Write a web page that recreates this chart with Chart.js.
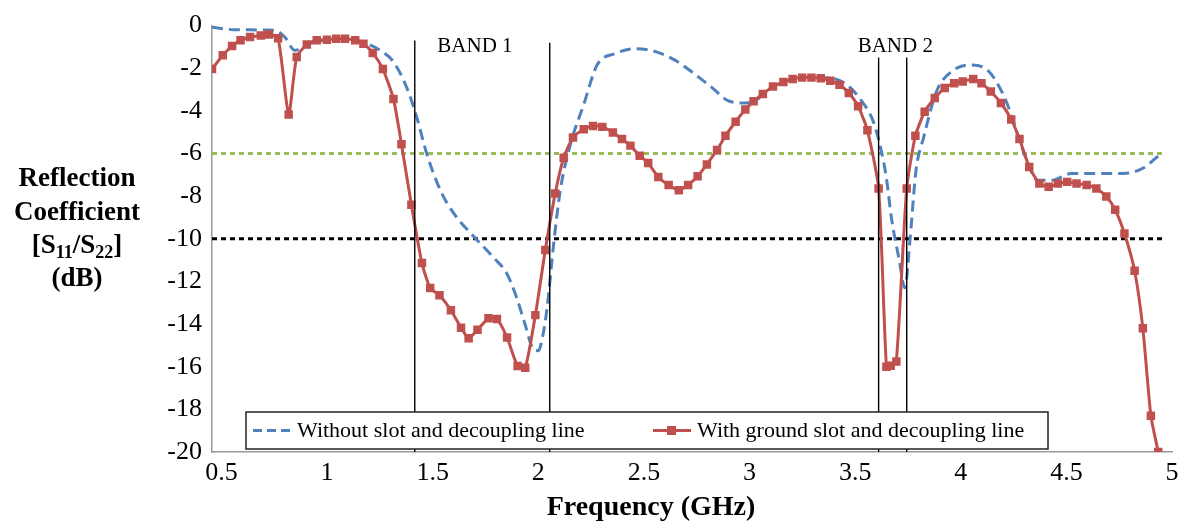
<!DOCTYPE html>
<html>
<head>
<meta charset="utf-8">
<script src="https://cdn.jsdelivr.net/npm/chart.js@4"></script>
<style>
  body { margin: 0; background: #fff; }
  #wrap { width: 1186px; height: 524px; }
</style>
</head>
<body>
<div id="wrap"><canvas id="chart" width="1186" height="524"></canvas></div>
<script>
// x ticks / y ticks
const xTicks = [0.5, 1, 1.5, 2, 2.5, 3, 3.5, 4, 4.5, 5];
const xMin = 0.455;
const xMax = 5;
const yMin = -20;
const yMax = 0;

// without slot and decoupling line (blue dashed)
const plainFreq = [0.455, 0.555, 0.635, 0.72, 0.762, 0.8, 0.848, 0.9, 0.95, 1.0, 1.05, 1.1, 1.15, 1.188, 1.251,
  1.314, 1.378, 1.425, 1.472, 1.536, 1.599, 1.693, 1.788, 1.852, 1.899, 1.938, 1.978, 2.0, 2.02, 2.041,
  2.073, 2.104, 2.152, 2.215, 2.278, 2.365, 2.462, 2.559, 2.647, 2.736, 2.825, 2.904, 2.983, 3.036, 3.063,
  3.111, 3.16, 3.204, 3.249, 3.293, 3.337, 3.39, 3.461, 3.532, 3.585, 3.62, 3.647, 3.673, 3.708, 3.735,
  3.761, 3.788, 3.824, 3.885, 3.956, 4.045, 4.115, 4.168, 4.221, 4.274, 4.319, 4.363, 4.434, 4.522, 4.628,
  4.77, 4.858, 4.947];
const plainS11 = [-0.08, -0.19, -0.2, -0.21, -0.25, -0.55, -1.16, -0.9, -0.75, -0.68, -0.62, -0.63, -0.72, -0.85, -1.16,
  -1.7, -2.93, -4.32, -6.02, -7.72, -8.8, -9.88, -10.88, -11.65, -12.81, -14.04, -15.2, -15.25, -14.6, -13.27,
  -10.19, -7.72, -5.56, -3.7, -1.85, -1.31, -1.08, -1.23, -1.62, -2.24, -2.93, -3.55, -3.63, -3.47, -3.21,
  -2.86, -2.65, -2.5, -2.44, -2.44, -2.45, -2.47, -2.78, -3.55, -4.48, -5.71, -7.1, -9.1, -10.96, -12.3,
  -9.88, -6.79, -5.25, -3.09, -2.16, -1.85, -2.0, -2.62, -3.7, -5.25, -6.48, -7.25, -7.25, -6.94, -6.94,
  -6.94, -6.71, -6.02];

// with ground slot and decoupling line (red, square markers)
const slotFreq = [0.455, 0.506, 0.55, 0.59, 0.635, 0.686, 0.725, 0.768, 0.818, 0.856, 0.904, 0.951, 0.999, 1.043,
  1.085, 1.133, 1.172, 1.216, 1.264, 1.314, 1.352, 1.399, 1.449, 1.488, 1.532, 1.586, 1.634, 1.67, 1.712,
  1.764, 1.804, 1.852, 1.902, 1.938, 1.986, 2.033, 2.08, 2.12, 2.164, 2.215, 2.259, 2.303, 2.353, 2.396,
  2.436, 2.48, 2.52, 2.568, 2.617, 2.665, 2.709, 2.754, 2.798, 2.846, 2.886, 2.934, 2.98, 3.019, 3.063,
  3.111, 3.16, 3.204, 3.249, 3.293, 3.337, 3.382, 3.426, 3.47, 3.514, 3.558, 3.611, 3.648, 3.668, 3.695,
  3.744, 3.785, 3.829, 3.877, 3.924, 3.969, 4.009, 4.059, 4.098, 4.142, 4.19, 4.239, 4.278, 4.324, 4.372,
  4.416, 4.46, 4.504, 4.548, 4.596, 4.642, 4.689, 4.731, 4.775, 4.823, 4.862, 4.9, 4.935];
const slotS11 = [-2.04, -1.39, -0.96, -0.69, -0.54, -0.46, -0.42, -0.59, -4.17, -1.47, -0.89, -0.69, -0.66, -0.62,
  -0.62, -0.69, -0.85, -1.28, -2.04, -3.44, -5.56, -8.4, -11.14, -12.31, -12.65, -13.35, -14.17, -14.66, -14.27,
  -13.73, -13.76, -14.63, -15.97, -16.05, -13.58, -10.52, -7.87, -6.2, -5.25, -4.86, -4.71, -4.75, -5.01, -5.32,
  -5.63, -6.1, -6.45, -7.1, -7.48, -7.72, -7.48, -7.07, -6.51, -5.83, -5.17, -4.51, -3.94, -3.55, -3.21,
  -2.86, -2.65, -2.5, -2.44, -2.44, -2.47, -2.59, -2.78, -3.16, -3.78, -4.91, -7.64, -16.0, -15.95, -15.75,
  -7.64, -5.17, -4.04, -3.4, -2.93, -2.7, -2.62, -2.5, -2.7, -3.09, -3.63, -4.4, -5.32, -6.63, -7.41,
  -7.56, -7.41, -7.33, -7.41, -7.48, -7.64, -8.02, -8.64, -9.75, -11.5, -14.2, -18.3, -20];

// -6 dB and -10 dB reference levels
const refLevels = [-6, -10];
const refEnd = 4.955;

// band edges (GHz) and where each marker line stops at the top (dB)
const bandEdges = [1.415, 2.054, 3.611, 3.744];
const bandTops = [-0.7, -0.8, -1.5, -1.5];
const bandNames = ['BAND 1', 'BAND 2'];
const bandLabelAt = [1.70, 3.69];

const serif = "'Liberation Serif', 'Times New Roman', serif";
const RED = '#C0504D';
const BLUE = '#4F81BD';

const pairs = (xs, ys) => xs.map((x, i) => ({ x: x, y: ys[i] }));

const bandSets = bandEdges.map((f, i) => ({
  data: [{ x: f, y: yMin }, { x: f, y: bandTops[i] }],
  borderColor: '#000',
  borderWidth: 1.4,
  pointRadius: 0,
}));

const refSets = [
  {
    data: [{ x: xMin, y: refLevels[0] }, { x: refEnd, y: refLevels[0] }],
    borderColor: '#9BBB59',
    borderWidth: 3,
    borderDash: [5, 4],
    pointRadius: 0,
  },
  {
    data: [{ x: xMin, y: refLevels[1] }, { x: refEnd, y: refLevels[1] }],
    borderColor: '#000',
    borderWidth: 3,
    borderDash: [5, 4],
    pointRadius: 0,
  },
];

const overlay = {
  id: 'overlay',
  afterDatasetsDraw(chart) {
    const ctx = chart.ctx;
    const xs = chart.scales.x;
    const ys = chart.scales.y;

    // band labels
    ctx.save();
    ctx.fillStyle = '#000';
    ctx.font = '21px ' + serif;
    ctx.textAlign = 'center';
    ctx.textBaseline = 'middle';
    bandNames.forEach((name, i) => {
      ctx.fillText(name, xs.getPixelForValue(bandLabelAt[i]), ys.getPixelForValue(-1.0));
    });

    // legend box
    const lx = 246, ly = 412, lw = 802, lh = 37;
    const cy = ly + lh / 2;
    ctx.fillStyle = '#fff';
    ctx.fillRect(lx, ly, lw, lh);
    ctx.strokeStyle = '#222';
    ctx.lineWidth = 1.5;
    ctx.strokeRect(lx, ly, lw, lh);

    ctx.strokeStyle = BLUE;
    ctx.lineWidth = 3;
    ctx.setLineDash([9, 5]);
    ctx.beginPath();
    ctx.moveTo(253, cy);
    ctx.lineTo(294, cy);
    ctx.stroke();
    ctx.setLineDash([]);

    ctx.strokeStyle = RED;
    ctx.beginPath();
    ctx.moveTo(653, cy);
    ctx.lineTo(691, cy);
    ctx.stroke();
    ctx.fillStyle = RED;
    ctx.fillRect(667, cy - 4.5, 9, 9);

    ctx.fillStyle = '#000';
    ctx.font = '22px ' + serif;
    ctx.textAlign = 'left';
    ctx.fillText('Without slot and decoupling line', 297, cy + 1);
    ctx.fillText('With ground slot and decoupling line', 697, cy + 1);
    ctx.restore();
  },
  afterDraw(chart) {
    const ctx = chart.ctx;
    ctx.save();
    ctx.fillStyle = '#000';
    ctx.textBaseline = 'middle';
    ctx.textAlign = 'center';
    const big = 'bold 27px ' + serif;
    const small = 'bold 18px ' + serif;
    ctx.font = big;
    ctx.fillText('Reflection', 77, 179);
    ctx.fillText('Coefficient', 77, 213);
    ctx.fillText('(dB)', 77, 279);

    // [S11/S22] with subscripts
    const parts = [['[S', big, 0], ['11', small, 7], ['/S', big, 0], ['22', small, 7], [']', big, 0]];
    let total = 0;
    parts.forEach((p) => { ctx.font = p[1]; total += ctx.measureText(p[0]).width; });
    let px = 77 - total / 2;
    ctx.textAlign = 'left';
    parts.forEach((p) => {
      ctx.font = p[1];
      ctx.fillText(p[0], px, 246 + p[2]);
      px += ctx.measureText(p[0]).width;
    });

    ctx.textAlign = 'center';
    ctx.font = 'bold 28px ' + serif;
    ctx.fillText('Frequency (GHz)', 651, 508);
    ctx.restore();
  },
};

new Chart(document.getElementById('chart'), {
  type: 'line',
  data: {
    datasets: [
      ...bandSets,
      {
        label: 'With ground slot and decoupling line',
        data: pairs(slotFreq, slotS11),
        borderColor: RED,
        backgroundColor: RED,
        borderWidth: 3,
        pointStyle: 'rect',
        pointRadius: 6,
        pointBorderWidth: 0,
        tension: 0.2,
      },
      {
        label: 'Without slot and decoupling line',
        data: pairs(plainFreq, plainS11),
        borderColor: BLUE,
        borderWidth: 3,
        borderDash: [11, 6],
        pointRadius: 0,
        cubicInterpolationMode: 'monotone',
      },
      ...refSets,
    ],
  },
  options: {
    responsive: false,
    animation: false,
    layout: { padding: { top: 20, right: 14, left: 0, bottom: 0 } },
    plugins: {
      legend: { display: false },
      tooltip: { enabled: false },
    },
    scales: {
      x: {
        type: 'linear',
        min: xMin,
        max: xMax,
        afterBuildTicks: (scale) => { scale.ticks = xTicks.map((v) => ({ value: v })); },
        afterFit: (scale) => { scale.height = 72; },
        grid: { display: false, drawTicks: false },
        border: { color: '#999', width: 1.5 },
        ticks: {
          padding: 6,
          maxRotation: 0,
          autoSkip: false,
          color: '#000',
          font: { family: serif, size: 26 },
          callback: (v) => String(v),
        },
      },
      y: {
        min: yMin,
        max: yMax,
        afterFit: (scale) => { scale.width = 212; },
        grid: { display: false, drawTicks: false },
        border: { color: '#999', width: 1.5 },
        ticks: {
          stepSize: 2,
          padding: 10,
          color: '#000',
          font: { family: serif, size: 26 },
        },
      },
    },
  },
  plugins: [overlay],
});
</script>
</body>
</html>
